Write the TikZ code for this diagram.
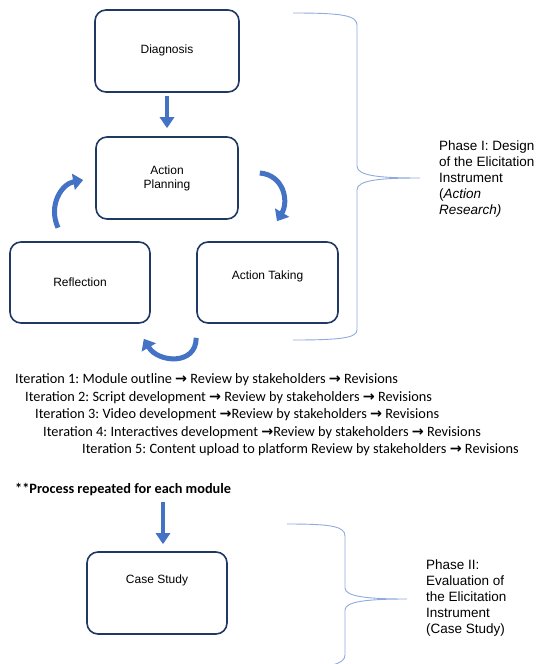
\documentclass[tikz,border=0pt]{standalone}
\usepackage{fontspec}
\setmainfont{Liberation Sans}
\newfontfamily\calibri{Carlito}
\newfontfamily\symb{DejaVu Sans}
\usetikzlibrary{arrows.meta}
\definecolor{cadre}{HTML}{1F3864}
\definecolor{bleu}{HTML}{4472C4}
\definecolor{accolade}{HTML}{8FAADC}
\newcommand{\flch}{{\symb\bfseries →}}
\frenchspacing
\tikzset{
  boite/.style={draw=cadre, line width=1.6pt, rounded corners=11pt, align=center,
    minimum width=142pt, minimum height=82pt, inner sep=0pt, font=\fontsize{12}{14}\selectfont},
  descente/.style={draw=bleu, line width=4.5pt, -{Triangle[length=11pt,width=14pt]}},
  boucle/.style={draw=bleu, line width=5pt, -{Triangle[length=10pt,width=16pt]}},
  acc/.style={draw=accolade, line width=0.9pt},
  etape/.style={anchor=west, inner sep=0pt, font=\calibri\fontsize{14.3}{17}\selectfont},
  phase/.style={anchor=north west, align=left, inner sep=0pt, font=\fontsize{13.5}{16}\selectfont}
}
\begin{document}
\begin{tikzpicture}[x=1pt,y=-1pt]
  \useasboundingbox (0,0) rectangle (551,664);
  % cycle de recherche-action
  \node[boite, minimum width=144pt, text depth=4pt] (diag) at (167,51) {Diagnosis};
  \node[boite] (plan) at (167,178) {Action\\Planning};
  \node[boite, minimum width=140pt, minimum height=81pt] (refl) at (80,282.5) {Reflection};
  \node[boite, minimum width=141pt, minimum height=81pt, text depth=14pt] (prise) at (267.5,282.5) {Action Taking};
  \draw[descente, shorten <=3pt, shorten >=8pt] (diag) -- (plan);
  \draw[boucle] ([shift={(-22,-13.5)}]refl.north) .. controls +(-10,-22) and +(-22,4) .. ([shift={(-12,2)}]plan.west); %Reflection vers Planning
  \draw[boucle] ([shift={(21,-5)}]plan.east) .. controls +(24,2) and +(12,-20) .. ([shift={(9.5,-20)}]prise.north); %Planning vers Taking
  \draw[boucle] ([shift={(0,14)}]prise.south west) .. controls +(0,28) and +(14,24) .. ([shift={(-7,15)}]refl.south east); %Taking vers Reflection
  % accolade phase I
  \draw[acc] (293,13) .. controls (340,13) and (357,15) .. (357,25) -- (357,166)
    .. controls (357,176) and (380,178) .. (420,178)
    .. controls (380,178) and (357,180) .. (357,190) -- (357,330)
    .. controls (357,338) and (340,340) .. (293,340);
  \node[phase] (ph1) at (439,141) {Phase I: Design\\of the Elicitation\\Instrument\\(\textit{Action}\\\textit{Research)}};
  % iterations
  \node[etape] (it1) at (15,380) {Iteration 1: Module outline \flch{} Review by stakeholders \flch{} Revisions};
  \node[etape] (it2) at (25,398) {Iteration 2: Script development \flch{} Review by stakeholders \flch{} Revisions};
  \node[etape] (it3) at (35,415) {Iteration 3: Video development \flch{}Review by stakeholders \flch{} Revisions};
  \node[etape] (it4) at (43,433) {Iteration 4: Interactives development \flch{}Review by stakeholders \flch{} Revisions};
  \node[etape] (it5) at (82,450) {Iteration 5: Content upload to platform Review by stakeholders \flch{} Revisions};
  \node[etape, font=\calibri\bfseries\fontsize{14.3}{17}\selectfont] (rep) at (15,490) {**Process repeated for each module};
  % phase II
  \node[boite, minimum width=140pt, text depth=28pt] (cas) at (157,593) {Case Study};
  \draw[descente, shorten <=6pt, shorten >=7pt] ([xshift=6pt]cas.north |- rep.south) -- ([xshift=6pt]cas.north);
  \draw[acc] (287,524) .. controls (330,524) and (345,526) .. (345,536) -- (345,588)
    .. controls (345,597) and (370,599) .. (407,599)
    .. controls (370,599) and (345,601) .. (345,610) -- (345,655)
    .. controls (345,664) and (330,668) .. (290,668);
  \node[phase] (ph2) at (426,560) {Phase II:\\Evaluation of\\the Elicitation\\Instrument\\(Case Study)};
\end{tikzpicture}
\end{document}
